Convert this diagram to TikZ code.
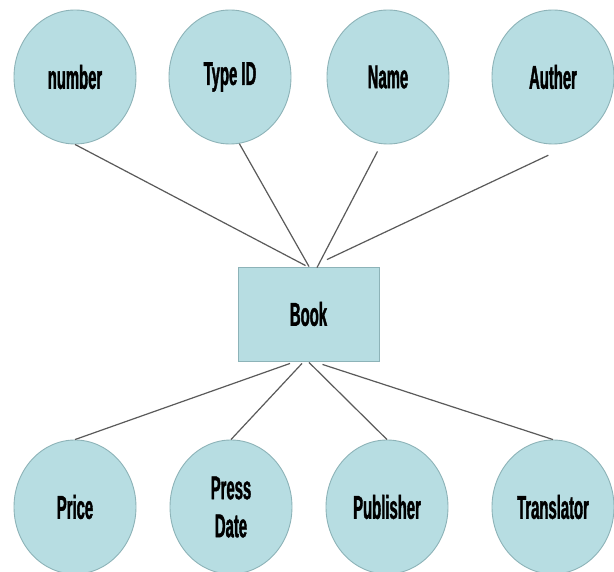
\documentclass[tikz,border=0pt]{standalone}
\usepackage{fontspec}
\setmainfont{Liberation Sans}[FakeStretch=0.45,BoldFeatures={FakeBold=1.2}]
\usetikzlibrary{shapes.geometric}
\definecolor{attrfill}{HTML}{B7DDE2}
\definecolor{attrline}{HTML}{8DB3B8}
\definecolor{conn}{HTML}{5A5A5A}
\tikzset{
  attr/.style={ellipse, draw=attrline, line width=0.9pt, fill=attrfill,
    minimum width=122pt, minimum height=134pt, inner sep=0pt,
    font=\fontsize{33}{38}\selectfont\bfseries, text=black, align=center},
  entity/.style={rectangle, draw=attrline, line width=0.9pt, fill=attrfill,
    minimum width=141pt, minimum height=94pt, inner sep=0pt,
    font=\fontsize{33}{38}\selectfont\bfseries, text=black},
  link/.style={draw=conn, line width=1.2pt}
}
\begin{document}
\begin{tikzpicture}[x=1pt,y=-1pt]
\useasboundingbox (0,0) rectangle (614,572);
\fill[white] (0,0) rectangle (614,572);
% attributes top
\node[attr] (number) at (75,77) {number};
\node[attr] (typeid) at (230,77) {Type ID};
\node[attr] (name) at (388,77) {Name};
\node[attr] (auther) at (553,77) {Auther};
% entity
\node[entity] (book) at (308.5,314) {Book};
% attributes bottom
\node[attr] (price) at (75,507) {Price};
\node[attr] (pressdate) at (231,507) {Press\\Date};
\node[attr] (publisher) at (387,507) {Publisher};
\node[attr] (translator) at (553,507) {Translator};
% connector end points
\coordinate (t1) at ([xshift=-3pt,yshift=1pt]book.north);
\coordinate (t2) at ([xshift=0.5pt]book.north);
\coordinate (t3) at ([xshift=8.5pt,yshift=-1pt]book.north);
\coordinate (t4) at ([xshift=18.5pt,yshift=7pt]book.north);
\coordinate (nameend) at ([yshift=-8pt]name.-99);
\coordinate (authend) at ([yshift=-11pt]auther.-94);
\coordinate (b1) at ([xshift=-18.5pt,yshift=-2pt]book.south);
\coordinate (b2) at ([xshift=-6.5pt,yshift=-2pt]book.south);
\coordinate (b3) at ([xshift=0.5pt,yshift=-1pt]book.south);
\coordinate (b4) at ([xshift=14pt,yshift=-3pt]book.south);
% connectors
\draw[link] (number.south) -- (t1);
\draw[link] (typeid.-82) -- (t2);
\draw[link] (nameend) -- (t3);
\draw[link] (authend) -- (t4);
\draw[link] (b1) -- (price.north);
\draw[link] (b2) -- (pressdate.north);
\draw[link] (b3) -- (publisher.north);
\draw[link] (b4) -- (translator.north);
\end{tikzpicture}
\end{document}
